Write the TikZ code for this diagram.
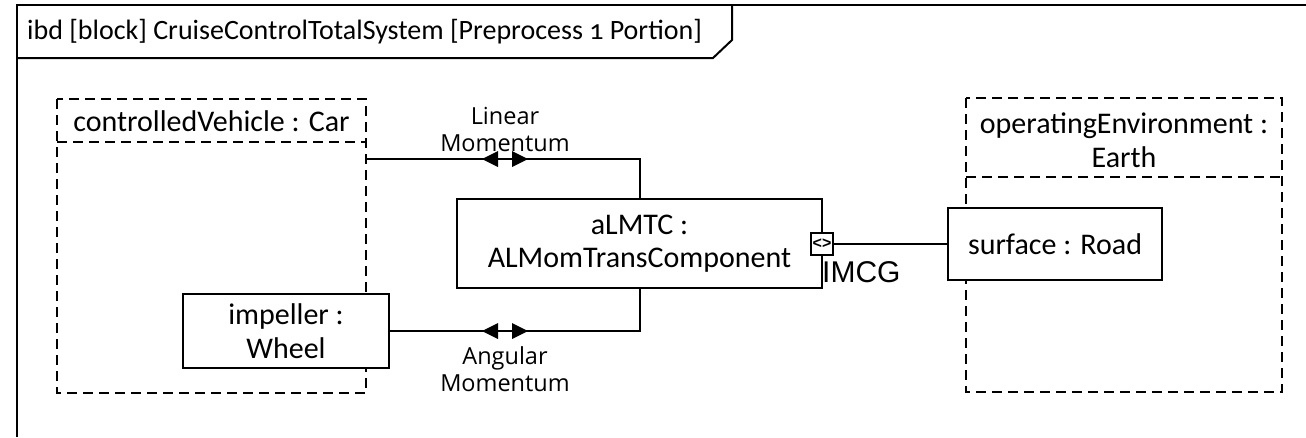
\documentclass[tikz,border=0pt]{standalone}
\usepackage{fontspec}
\setmainfont{Carlito}[Numbers=OldStyle]
\newfontfamily\labfont{Open Sans}
\newfontfamily\arialfont{Liberation Sans}
\begin{document}
\begin{tikzpicture}[x=1pt,y=-1pt,
  solid line/.style={line width=2pt},
  partbox/.style={draw,line width=2pt,fill=white,inner sep=0pt,align=center,
    font=\fontsize{30}{33.5}\selectfont},
  dashbox/.style={draw,line width=2pt,dash pattern=on 10pt off 6pt},
  boxtext/.style={inner sep=0pt,align=center,font=\fontsize{30}{33.5}\selectfont},
  conlabel/.style={inner sep=0pt,align=center,font=\labfont\fontsize{23.5}{27}\selectfont},
  tip/.style={fill=black}]
\useasboundingbox (0,0) rectangle (1306,437);
% frame
\draw[line width=2.5pt] (17,437) -- (17,5) -- (1306,5);
\draw[line width=2pt] (17,58) -- (713,58) -- (732,40) -- (732,5);
\node[boxtext,anchor=west,font=\fontsize{28}{30}\selectfont] (title) at (27,32) {ibd [block] CruiseControlTotalSystem [Preprocess 1 Portion]};

% controlledVehicle : Car
\draw[dashbox] (57,99) rectangle (366,393);
\draw[dashbox] (57,142) -- (366,142);
\node[boxtext] (cvlabel) at (211.5,121) {controlledVehicle : Car};
\coordinate (cvport) at (366,159);

% operatingEnvironment : Earth
\draw[dashbox] (966,98) rectangle (1282,392);
\draw[dashbox] (966,177) -- (1282,177);
\node[boxtext] (oelabel) at (1124,140) {operatingEnvironment :\\Earth};

% parts
\node[partbox,minimum width=365pt,minimum height=89pt] (almtc) at (639.5,243.5) {aLMTC :\\ALMomTransComponent};
\node[partbox,minimum width=206pt,minimum height=74pt] (impeller) at (286,331) {impeller :\\Wheel};
\node[partbox,minimum width=214pt,minimum height=72pt] (surface) at (1055,244) {surface : Road};

% port
\node[draw,line width=2pt,fill=white,minimum size=22pt,inner sep=0pt,
  font=\arialfont\bfseries\fontsize{16}{16}\selectfont] (port) at (822,244) {<>};
\node[anchor=west,inner sep=0pt,font=\arialfont\fontsize{30}{30}\selectfont] (imcg) at (822,272) {IMCG};

% connectors
\draw[solid line] (almtc.north) |- (cvport);
\draw[solid line] (almtc.south) |- (impeller.east);
\draw[solid line] (port.east) -- (surface.west);

% arrowheads
\fill[tip] (482,159) -- (498,151) -- (498,167) -- cycle;
\fill[tip] (528,159) -- (512,151) -- (512,167) -- cycle;
\fill[tip] (482,331) -- (498,323) -- (498,339) -- cycle;
\fill[tip] (528,331) -- (512,323) -- (512,339) -- cycle;

% connector labels
\node[conlabel] (linlab) at (505,129) {Linear\\Momentum};
\node[conlabel] (anglab) at (505,369) {Angular\\Momentum};
\end{tikzpicture}
\end{document}
